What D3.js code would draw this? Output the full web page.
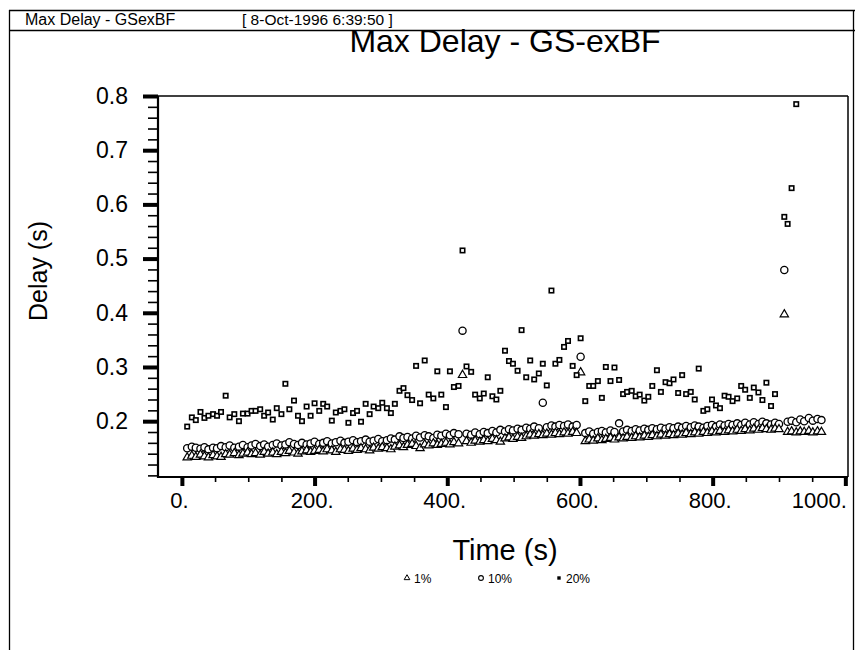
<!DOCTYPE html>
<html><head><meta charset="utf-8">
<script src="https://cdn.jsdelivr.net/npm/d3@7"></script>
<style>
body{margin:0;background:#fff}
svg{display:block}
text{font-family:"Liberation Sans",Arial,Helvetica,sans-serif;fill:#000}
</style>
</head><body>
<svg id="c" width="855" height="650"></svg>
<script>
// ---------- DATA ----------
const times = [
  8, 15, 21, 28, 34, 40, 47, 53, 59, 66,
  72, 79, 86, 92, 99, 105, 111, 118, 124, 130,
  137, 143, 150, 156, 162, 169, 175, 181, 188, 194,
  200, 207, 213, 219, 226, 232, 239, 245, 251, 258,
  264, 270, 277, 283, 289, 296, 302, 309, 315, 321,
  328, 334, 340, 347, 353, 359, 366, 372, 379, 385,
  391, 398, 404, 410, 417, 423, 429, 436, 442, 449,
  455, 461, 468, 474, 480, 487, 493, 499, 506, 512,
  519, 525, 531, 538, 544, 550, 557, 563, 569, 576,
  582, 589, 595, 601, 608, 614, 620, 627, 633, 639,
  646, 652, 659, 665, 671, 678, 684, 690, 697, 703,
  709, 716, 722, 729, 735, 741, 748, 754, 760, 767,
  773, 779, 786, 792, 799, 805, 811, 818, 824, 830,
  837, 843, 849, 856, 862, 869, 875, 881, 888, 894,
  900, 908, 913, 919, 926, 932, 938, 945, 951, 958,
  964
];
const delay1 = [
  .133,.136,.134,.138,.135,.133,.137,.135,.134,.139,
  .138,.141,.137,.140,.142,.139,.141,.138,.143,.140,
  .142,.139,.143,.141,.145,.142,.140,.144,.146,.143,
  .145,.147,.144,.148,.146,.143,.148,.147,.145,.149,
  .147,.150,.148,.146,.151,.149,.152,.150,.148,.153,
  .155,.152,.156,.158,.154,.150,.157,.155,.159,.156,
  .158,.160,.157,.161,.159,.285,.163,.160,.164,.162,
  .165,.163,.167,.165,.162,.168,.170,.167,.171,.169,
  .172,.175,.173,.176,.174,.177,.175,.178,.176,.179,
  .177,.180,.178,.290,.163,.166,.164,.168,.165,.167,
  .169,.166,.170,.168,.171,.169,.172,.170,.173,.171,
  .174,.172,.175,.173,.176,.174,.177,.175,.178,.176,
  .179,.177,.180,.178,.181,.179,.182,.180,.183,.181,
  .184,.182,.185,.183,.186,.184,.187,.185,.184,.186,
  .185,.397,.180,.181,.179,.181,.180,.182,.179,.181,
  .180
];
const delay10 = [
  .150,.153,.151,.149,.152,.148,.151,.150,.154,.152,
  .155,.151,.153,.156,.152,.155,.158,.154,.157,.153,
  .156,.159,.155,.157,.161,.158,.156,.160,.157,.159,
  .162,.158,.160,.163,.159,.161,.164,.160,.162,.165,
  .161,.163,.166,.162,.164,.167,.163,.165,.168,.166,
  .172,.169,.171,.168,.173,.170,.174,.172,.169,.175,
  .173,.177,.174,.178,.176,.367,.177,.175,.179,.176,
  .180,.178,.182,.179,.184,.181,.185,.183,.186,.184,
  .188,.186,.190,.187,.234,.189,.192,.190,.193,.191,
  .194,.190,.193,.319,.178,.181,.177,.180,.182,.179,
  .183,.180,.196,.181,.184,.182,.185,.183,.186,.184,
  .187,.185,.188,.186,.189,.187,.190,.188,.191,.189,
  .192,.190,.188,.191,.193,.190,.194,.192,.195,.193,
  .196,.193,.197,.194,.198,.195,.199,.196,.194,.197,
  .195,.479,.199,.201,.198,.203,.200,.206,.201,.204,
  .202
];
const delay20 = [
  .190,.207,.202,.217,.206,.210,.213,.210,.217,.247,
  .207,.213,.200,.214,.214,.219,.219,.222,.210,.216,
  .203,.224,.213,.269,.222,.238,.210,.200,.227,.210,
  .233,.219,.232,.227,.201,.216,.219,.222,.197,.215,
  .219,.199,.232,.213,.227,.224,.234,.224,.215,.232,
  .256,.261,.248,.239,.302,.233,.312,.249,.242,.292,
  .249,.226,.292,.263,.265,.515,.301,.291,.249,.242,
  .251,.281,.246,.240,.256,.330,.311,.306,.293,.368,
  .281,.312,.277,.288,.306,.266,.441,.306,.313,.337,
  .348,.302,.285,.353,.237,.265,.265,.274,.243,.300,
  .274,.299,.276,.250,.254,.256,.246,.249,.238,.245,
  .265,.294,.254,.272,.270,.277,.252,.285,.250,.254,
  .240,.297,.219,.222,.240,.229,.224,.247,.245,.237,
  .242,.265,.258,.243,.262,.253,.239,.271,.228,.250,
  null,.577,.564,.630,.785,null,null,null,null,null,
  null
];
const seriesNames = ["1%", "10%", "20%"];
const xTicks = [0, 200, 400, 600, 800, 1000];
const xTickLabels = ["0.", "200.", "400.", "600.", "800.", "1000."];
const yTicks = [0.2, 0.3, 0.4, 0.5, 0.6, 0.7, 0.8];
const yTickLabels = ["0.2", "0.3", "0.4", "0.5", "0.6", "0.7", "0.8"];

// ---------- LAYOUT ----------
const svg = d3.select("#c");
const L = 158, R = 848, T = 96, B = 477;
const x = d3.scaleLinear().domain([-36, 1004]).range([L, R]);
const y = d3.scaleLinear().domain([0.097, 0.8]).range([B, T]);

// outer frame + header
const frame = svg.append("g").attr("stroke", "#000").attr("stroke-width", 1.3).attr("fill", "none");
frame.append("line").attr("x1", 9.5).attr("x2", 9.5).attr("y1", 10).attr("y2", 650);
frame.append("line").attr("x1", 853.5).attr("x2", 853.5).attr("y1", 10).attr("y2", 650);
frame.append("line").attr("x1", 9).attr("x2", 855).attr("y1", 10.5).attr("y2", 10.5);
frame.append("line").attr("x1", 9).attr("x2", 855).attr("y1", 30.5).attr("y2", 30.5);
svg.append("text").attr("x", 25).attr("y", 25).attr("font-size", 16).text("Max Delay - GSexBF");
svg.append("text").attr("x", 242).attr("y", 25).attr("font-size", 15.5).text("[ 8-Oct-1996 6:39:50 ]");

// title
svg.append("text").attr("x", 505).attr("y", 52).attr("text-anchor", "middle")
  .attr("font-size", 32).text("Max Delay - GS-exBF");

// plot box top/right
svg.append("line").attr("x1", L).attr("x2", R).attr("y1", T).attr("y2", T).attr("stroke", "#000").attr("stroke-width", 1.5);
svg.append("line").attr("x1", R).attr("x2", R).attr("y1", T).attr("y2", B).attr("stroke", "#000").attr("stroke-width", 1.5);

// y axis
const yMinor = d3.range(0.1, 0.801, 0.02).filter(v => !yTicks.some(t => Math.abs(t - v) < 1e-6) && y(v) < B - 1);
const gyMinor = svg.append("g").attr("transform", `translate(${L},0)`)
  .call(d3.axisLeft(y).tickValues(yMinor).tickSize(10).tickFormat(""));
gyMinor.selectAll("line").attr("stroke-width", 1.6);
gyMinor.select(".domain").remove();
const gy = svg.append("g").attr("transform", `translate(${L},0)`)
  .call(d3.axisLeft(y).tickValues(yTicks).tickSize(15).tickPadding(15)
    .tickFormat((d, i) => yTickLabels[i]));
gy.selectAll(".tick line").attr("stroke-width", 4);
gy.select(".domain").attr("stroke-width", 2.2).attr("d", `M0,${T}V${B + 1}`);
gy.selectAll("text").attr("font-size", 23).attr("font-family", '"Liberation Sans",Arial,sans-serif');

// x axis
const xMinor = d3.range(50, 1001, 50).filter(v => v % 200 !== 0);
const gxMinor = svg.append("g").attr("transform", `translate(0,${B})`)
  .call(d3.axisBottom(x).tickValues(xMinor).tickSize(5).tickFormat(""));
gxMinor.selectAll("line").attr("stroke-width", 1.6);
gxMinor.select(".domain").remove();
const gx = svg.append("g").attr("transform", `translate(0,${B})`)
  .call(d3.axisBottom(x).tickValues(xTicks).tickSize(9).tickPadding(6)
    .tickFormat((d, i) => xTickLabels[i]));
gx.selectAll(".tick line").attr("stroke-width", 4);
gx.select(".domain").attr("stroke-width", 2.2).attr("d", `M${L - 1},0H${R}`);
gx.selectAll("text").attr("font-size", 22).attr("font-family", '"Liberation Sans",Arial,sans-serif')
  .attr("dx", -3);
gx.selectAll(".tick").filter(d => d === 1000).select("text").attr("text-anchor", "end").attr("dx", 0).attr("x", 1);

// axis labels
svg.append("text").attr("x", 505).attr("y", 560).attr("text-anchor", "middle")
  .attr("font-size", 29).text("Time (s)");
svg.append("text").attr("transform", "translate(47,271) rotate(-90)").attr("text-anchor", "middle")
  .attr("font-size", 25).text("Delay (s)");

// ---------- MARKS ----------
const pts = (vals) => times.map((t, i) => ({ t, v: vals[i] })).filter(d => d.v != null && d.v <= 0.8);
const tri = d3.symbol(d3.symbolTriangle, 30);
const plot = svg.append("g");

plot.append("g").selectAll("circle").data(pts(delay10)).join("circle")
  .attr("cx", d => x(d.t)).attr("cy", d => y(d.v)).attr("r", 3.6)
  .attr("fill", "#fff").attr("stroke", "#000").attr("stroke-width", 1.3);

plot.append("g").selectAll("path").data(pts(delay1)).join("path")
  .attr("d", tri).attr("transform", d => `translate(${x(d.t)},${y(d.v)})`)
  .attr("fill", "#fff").attr("stroke", "#000").attr("stroke-width", 1.2);

plot.append("g").selectAll("rect").data(pts(delay20)).join("rect")
  .attr("x", d => x(d.t) - 2.2).attr("y", d => y(d.v) - 2.2).attr("width", 4.4).attr("height", 4.4)
  .attr("fill", "#fff").attr("stroke", "#000").attr("stroke-width", 1.6);

// ---------- LEGEND ----------
const leg = svg.append("g").attr("font-size", 12);
const legX = [407, 481, 559];
seriesNames.forEach((name, i) => {
  const g = leg.append("g").attr("transform", `translate(${legX[i]},578)`);
  if (i === 0) g.append("path").attr("d", d3.symbol(d3.symbolTriangle, 14))
      .attr("fill", "#fff").attr("stroke", "#000").attr("stroke-width", 1);
  if (i === 1) g.append("circle").attr("r", 2.4).attr("fill", "#fff").attr("stroke", "#000").attr("stroke-width", 1.1);
  if (i === 2) g.append("rect").attr("x", -1.7).attr("y", -1.7).attr("width", 3.4).attr("height", 3.4)
      .attr("fill", "#000");
  g.append("text").attr("x", 7).attr("y", 4.5).text(name);
});
</script>
</body></html>
